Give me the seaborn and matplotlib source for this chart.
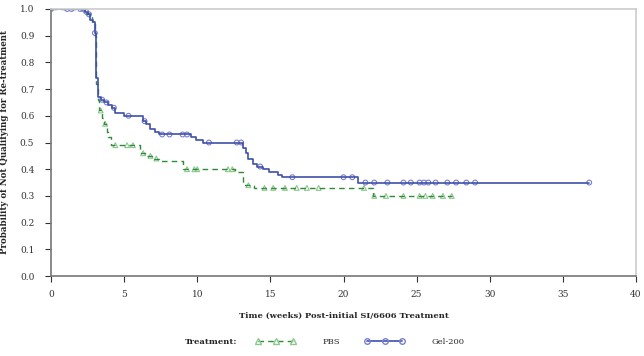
import numpy as np
import pandas as pd
import matplotlib
matplotlib.use("Agg")
import matplotlib.pyplot as plt
from matplotlib.lines import Line2D
import seaborn as sns

# ---- data ----
gel_t = [0, 2.3, 2.5, 2.7, 2.9, 3.0, 3.1, 3.2, 3.4, 3.6, 3.9, 4.2, 4.4, 5.0, 6.3, 6.5, 6.8, 7.1, 7.4,
         9.6, 9.9, 10.4, 13.1, 13.3, 13.5, 13.8, 14.1, 14.5, 14.9, 15.5, 15.8, 21.0, 36.8]
gel_s = [1.0, 0.99, 0.98, 0.96, 0.95, 0.91, 0.74, 0.67, 0.66, 0.65, 0.64, 0.63, 0.61, 0.60, 0.58, 0.57, 0.55,
         0.54, 0.53, 0.52, 0.51, 0.50, 0.48, 0.46, 0.44, 0.42, 0.41, 0.40, 0.39, 0.38, 0.37, 0.35, 0.35]
gel_cens = [0, 1.1, 1.4, 2.0, 2.2, 2.4, 2.6, 3.0, 3.5, 3.8, 4.3, 5.3, 6.4, 7.6, 8.1, 9.0, 9.3, 10.8,
            12.7, 13.0, 14.3, 16.5, 20.0, 20.6, 21.5, 22.1, 23.0, 24.1, 24.6, 25.2, 25.5, 25.8, 26.3,
            27.1, 27.7, 28.4, 29.0, 36.8]

pbs_t = [0, 2.4, 2.8, 3.0, 3.1, 3.2, 3.3, 3.5, 3.6, 3.8, 3.9, 4.1, 6.1, 6.4, 7.0, 7.4, 9.0, 12.6, 13.1,
         13.9, 22.0, 27.4]
pbs_s = [1.0, 0.98, 0.95, 0.90, 0.72, 0.66, 0.62, 0.59, 0.57, 0.54, 0.52, 0.49, 0.46, 0.45, 0.44, 0.43,
         0.40, 0.39, 0.34, 0.33, 0.30, 0.30]
pbs_cens = [3.4, 3.7, 4.4, 5.2, 5.6, 6.3, 6.8, 7.2, 9.3, 9.8, 10.0, 12.1, 12.4, 13.5, 14.6, 15.2,
            16.0, 16.8, 17.5, 18.3, 21.4, 22.1, 22.9, 24.1, 25.2, 25.6, 26.1, 26.8, 27.4]

x_ticks = [0, 5, 10, 15, 20, 25, 30, 35, 40]
y_ticks = [0.0, 0.1, 0.2, 0.3, 0.4, 0.5, 0.6, 0.7, 0.8, 0.9, 1.0]
groups = ["PBS", "Gel-200"]

BLUE = "#3f4fa8"
BLUE_M = "#7a7fd0"
GREEN = "#2f8a3a"
GREEN_M = "#8cc88c"


def step_value(t_ev, s_ev, t):
    idx = np.searchsorted(np.asarray(t_ev), np.asarray(t), side="right") - 1
    return np.asarray(s_ev)[np.clip(idx, 0, None)]


curves = pd.concat([
    pd.DataFrame({"time": pbs_t, "surv": pbs_s, "grp": "PBS"}),
    pd.DataFrame({"time": gel_t, "surv": gel_s, "grp": "Gel-200"}),
])
cens = pd.concat([
    pd.DataFrame({"time": pbs_cens, "surv": step_value(pbs_t, pbs_s, pbs_cens), "grp": "PBS"}),
    pd.DataFrame({"time": gel_cens, "surv": step_value(gel_t, gel_s, gel_cens), "grp": "Gel-200"}),
])

sns.set_style("ticks")
plt.rcParams["font.family"] = ["DejaVu Serif"]

fig = plt.figure(figsize=(6.44, 3.56), dpi=100)
ax = fig.add_axes([51 / 644, 1 - 276 / 356, (636 - 51) / 644, (276 - 9) / 356])

sns.lineplot(data=curves[curves.grp == "PBS"], x="time", y="surv", ax=ax, color=GREEN,
             drawstyle="steps-post", linestyle=(0, (4, 3)), linewidth=1.0, estimator=None,
             sort=False, legend=False)
sns.lineplot(data=curves[curves.grp == "Gel-200"], x="time", y="surv", ax=ax, color=BLUE,
             drawstyle="steps-post", linewidth=1.2, estimator=None, sort=False, legend=False)
sns.scatterplot(data=cens[cens.grp == "PBS"], x="time", y="surv", ax=ax, marker="^",
                s=12, facecolor="none", edgecolor=GREEN_M, linewidth=0.8, legend=False)
sns.scatterplot(data=cens[cens.grp == "Gel-200"], x="time", y="surv", ax=ax, marker="o",
                s=12, facecolor="none", edgecolor=BLUE_M, linewidth=0.8, legend=False)

ax.set_xlim(0, 40)
ax.set_ylim(0, 1.0)
ax.set_xticks(x_ticks)
ax.set_yticks(y_ticks)
ax.set_xticklabels([str(v) for v in x_ticks])
ax.set_yticklabels([f"{v:.1f}" for v in y_ticks])
ax.tick_params(axis="both", labelsize=6.5, colors="#333333", length=4, width=0.8, pad=6)
ax.tick_params(axis="y", pad=8)
for side in ["left", "bottom"]:
    ax.spines[side].set_color("#777777")
    ax.spines[side].set_linewidth(1.2)
for side in ["top", "right"]:
    ax.spines[side].set_visible(True)
    ax.spines[side].set_color("#cccccc")
    ax.spines[side].set_linewidth(1.2)

ax.set_xlabel("Time (weeks) Post-initial SI/6606 Treatment", fontsize=6, fontweight="bold",
              labelpad=9)
ax.set_ylabel("Probability of Not Qualifying for Re-treatment", fontsize=6.2, fontweight="bold",
              labelpad=8)

fig.text(185 / 644, 1 - 342 / 356, "Treatment:", fontsize=6, fontweight="bold",
         va="center", ha="left")
handles = [
    Line2D([], [], color=GREEN, linestyle=(0, (4, 3)), linewidth=1.0, marker="^",
           markerfacecolor="none", markeredgecolor=GREEN_M, markersize=4),
    Line2D([], [], color=BLUE, linewidth=1.2, marker="o",
           markerfacecolor="none", markeredgecolor=BLUE_M, markersize=4),
]
fig.legend(handles, groups, loc="center left", bbox_to_anchor=(248 / 644, 1 - 342 / 356),
           ncol=2, frameon=False, fontsize=6, handlelength=4.8, handletextpad=3.2,
           columnspacing=3.0, numpoints=3)

fig.savefig("out.png", dpi=100)
